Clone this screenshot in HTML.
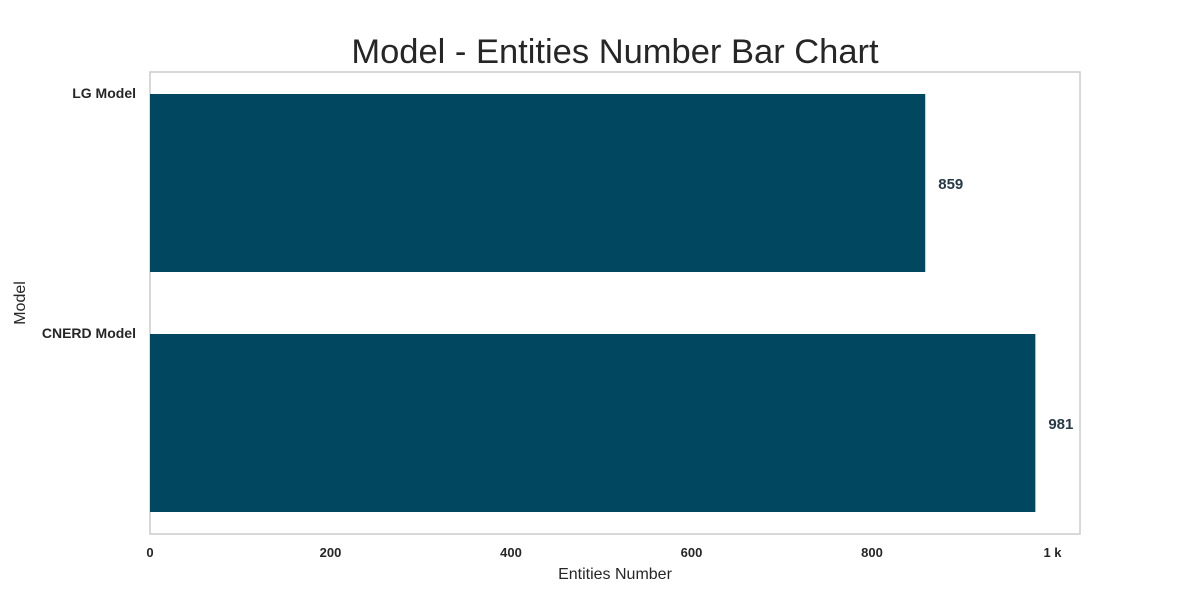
<!DOCTYPE html>
<html><head><meta charset="utf-8"><style>
body{margin:0;background:#fff;}
svg{display:block;font-family:"Liberation Sans","DejaVu Sans",sans-serif;}
</style></head><body>
<svg id="chart" width="1200" height="600">
<text x="615" y="63" font-size="34.5" fill="#262626" text-anchor="middle">Model - Entities Number Bar Chart</text>
<rect x="150" y="72" width="930" height="462" fill="none" stroke="#cccccc" stroke-width="1.5"/>
<g id="bars"></g>
<g id="ticks"></g>
<text x="615" y="579" font-size="16" fill="#262626" text-anchor="middle">Entities Number</text>
<text transform="translate(25,303) rotate(-90)" font-size="16" fill="#262626" text-anchor="middle">Model</text>
</svg>
<script>
const categories = ["LG Model", "CNERD Model"];
const values = [859, 981];
const tickValues = [0, 200, 400, 600, 800, 1000];
const tickLabels = ["0", "200", "400", "600", "800", "1 k"];

const NS = "http://www.w3.org/2000/svg";
function xScale(v){ return 150 + v * 0.9025; }
function bandTop(i){ return 94 + i * 240; }
const bandH = 178;

const bars = document.getElementById('bars');
categories.forEach((c, i) => {
  const y = bandTop(i);
  const r = document.createElementNS(NS, 'rect');
  r.setAttribute('x', 150);
  r.setAttribute('y', y);
  r.setAttribute('width', xScale(values[i]) - 150);
  r.setAttribute('height', bandH);
  r.setAttribute('fill', '#00475f');
  
  
  bars.appendChild(r);

  const lab = document.createElementNS(NS, 'text');
  lab.setAttribute('x', 136);
  lab.setAttribute('y', y + 4);
  lab.setAttribute('text-anchor', 'end');
  lab.setAttribute('font-size', '14');
  lab.setAttribute('font-weight', 'bold');
  lab.setAttribute('fill', '#262626');
  lab.textContent = c;
  
  
  bars.appendChild(lab);

  const v = document.createElementNS(NS, 'text');
  v.setAttribute('x', xScale(values[i]) + 13);
  v.setAttribute('y', y + bandH / 2 + 6);
  v.setAttribute('font-size', '15');
  v.setAttribute('font-weight', 'bold');
  v.setAttribute('fill', '#263a47');
  v.textContent = values[i];
  
  
  bars.appendChild(v);
});

const ticks = document.getElementById('ticks');
tickValues.forEach((t, i) => {
  const tx = document.createElementNS(NS, 'text');
  tx.setAttribute('x', xScale(t));
  tx.setAttribute('y', 557);
  tx.setAttribute('text-anchor', 'middle');
  tx.setAttribute('font-size', '13');
  tx.setAttribute('font-weight', 'bold');
  tx.setAttribute('fill', '#262626');
  tx.textContent = tickLabels[i];
  
  
  ticks.appendChild(tx);
});
</script>
</body></html>
